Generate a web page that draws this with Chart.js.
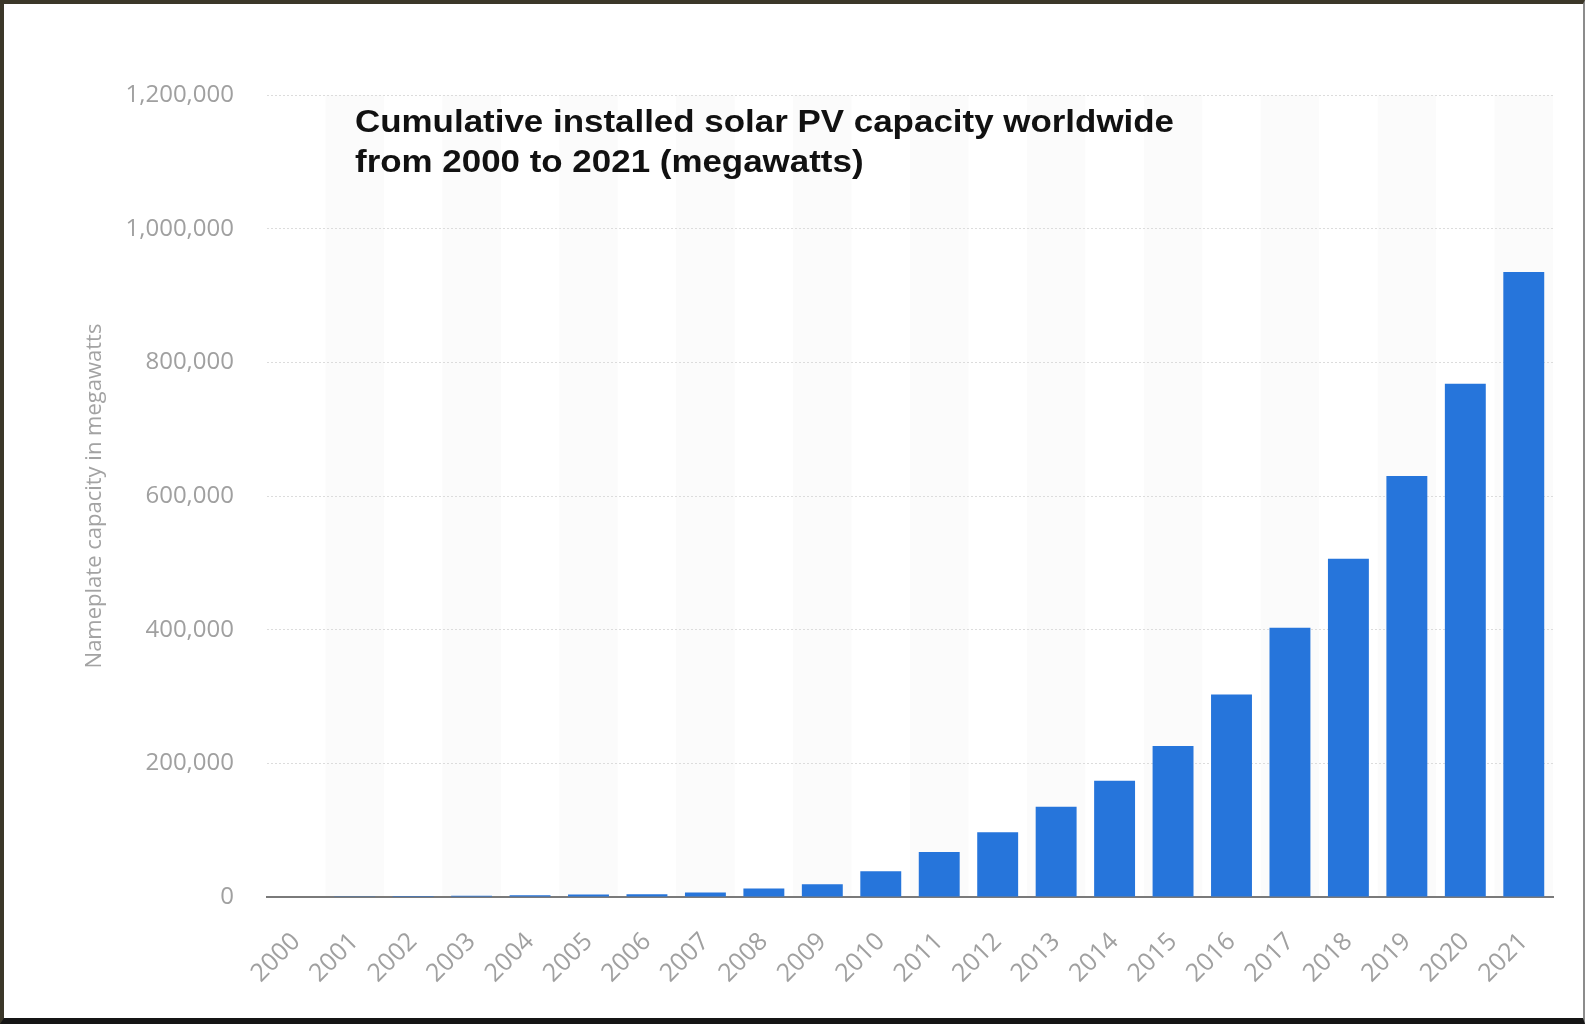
<!DOCTYPE html>
<html>
<head>
<meta charset="utf-8">
<script src="https://cdn.jsdelivr.net/npm/chart.js@4.4.1/dist/chart.umd.min.js"></script>
<style>
  html, body { margin: 0; padding: 0; background: #fff; }
  #frame {
    position: absolute; left: 0; top: 0; width: 1585px; height: 1024px; box-sizing: border-box;
    border-top: 4px solid #3b3729; border-left: 4px solid #3b3729;
    border-bottom: 6px solid #151515; border-right: 2px solid #8c8c8c; background: #fff;
  }
  canvas { display: block; }
</style>
</head>
<body>
<div id="frame"><canvas id="solarChart" width="1579" height="1014"></canvas></div>
<script>
const ctx = document.getElementById('solarChart');

// Data
var years = ['2000', '2001', '2002', '2003', '2004', '2005', '2006', '2007', '2008', '2009', '2010',
    '2011', '2012', '2013', '2014', '2015', '2016', '2017', '2018', '2019', '2020', '2021'];
var capacity = [800, 1000, 1400, 1800, 2600, 3700, 4200, 6600, 12600, 19000, 38500,
    67500, 97000, 135000, 174000, 226000, 303000, 403000, 506000, 630000, 768000, 935000];
var yTicks = [0, 200000, 400000, 600000, 800000, 1000000, 1200000];
var titleLines = ['Cumulative installed solar PV capacity worldwide', 'from 2000 to 2021 (megawatts)'];

// very light grey bands behind every second year
const stripes = {
    id: 'stripes',
    beforeDraw(chart) {
        const {ctx, chartArea, scales: {x}} = chart;
        const step = x.getPixelForValue(1) - x.getPixelForValue(0);
        ctx.save();
        ctx.fillStyle = '#fbfbfb';
        for (let i = 1; i < years.length; i += 2) {
            const cx = x.getPixelForValue(i);
            ctx.fillRect(cx - step / 2, chartArea.top, step, chartArea.bottom - chartArea.top);
        }
        ctx.restore();
    }
};

// title sits inside the plot area
const innerTitle = {
    id: 'innerTitle',
    afterDraw(chart) {
        const {ctx, chartArea} = chart;
        ctx.save();
        ctx.font = 'bold 31px "Liberation Sans", Arial, sans-serif';
        ctx.fillStyle = '#111';
        ctx.textBaseline = 'alphabetic';
        const stretch = 819 / ctx.measureText(titleLines[0]).width;
        ctx.translate(chartArea.left + 88, chartArea.top + 37);
        ctx.scale(stretch, 1);
        ctx.fillText(titleLines[0], 0, 0);
        ctx.fillText(titleLines[1], 0, 39.5);
        ctx.restore();
    }
};

new Chart(ctx, {
    type: 'bar',
    data: {
        labels: years,
        datasets: [{
            label: 'Nameplate capacity in megawatts',
            data: capacity,
            backgroundColor: '#2675db',
            borderWidth: 0,
            barPercentage: 0.7,
            categoryPercentage: 1
        }]
    },
    options: {
        responsive: false,
        animation: false,
        layout: { padding: { top: 91, right: 30, left: 0, bottom: 0 } },
        plugins: {
            legend: { display: false },
            tooltip: { enabled: false }
        },
        scales: {
            x: {
                grid: { display: false, drawTicks: false },
                border: { display: true, color: '#7a7a7a', width: 2 },
                ticks: {
                    color: '#a0a0a0',
                    font: { family: 'Open Sans', size: 25 },
                    maxRotation: 45,
                    minRotation: 45,
                    autoSkip: false,
                    padding: 30
                },
                afterFit(scale) { scale.height = 121; }
            },
            y: {
                min: 0,
                max: 1200000,
                afterBuildTicks(scale) { scale.ticks = yTicks.map(v => ({ value: v })); },
                ticks: {
                    color: '#a0a0a0',
                    font: { family: 'Open Sans', size: 24 },
                    padding: 33,
                    callback: v => v.toLocaleString('en-US')
                },
                grid: { color: '#dcdcdc', lineWidth: 1, drawTicks: false },
                border: { display: false, dash: [2, 2] },
                title: {
                    display: true,
                    text: 'Nameplate capacity in megawatts',
                    color: '#a3a3a3',
                    font: { family: 'Open Sans', size: 22 },
                    padding: { top: 78, bottom: 0 }
                },
                afterFit(scale) { scale.width = 263; }
            }
        }
    },
    plugins: [stripes, innerTitle]
});
</script>
</body>
</html>
